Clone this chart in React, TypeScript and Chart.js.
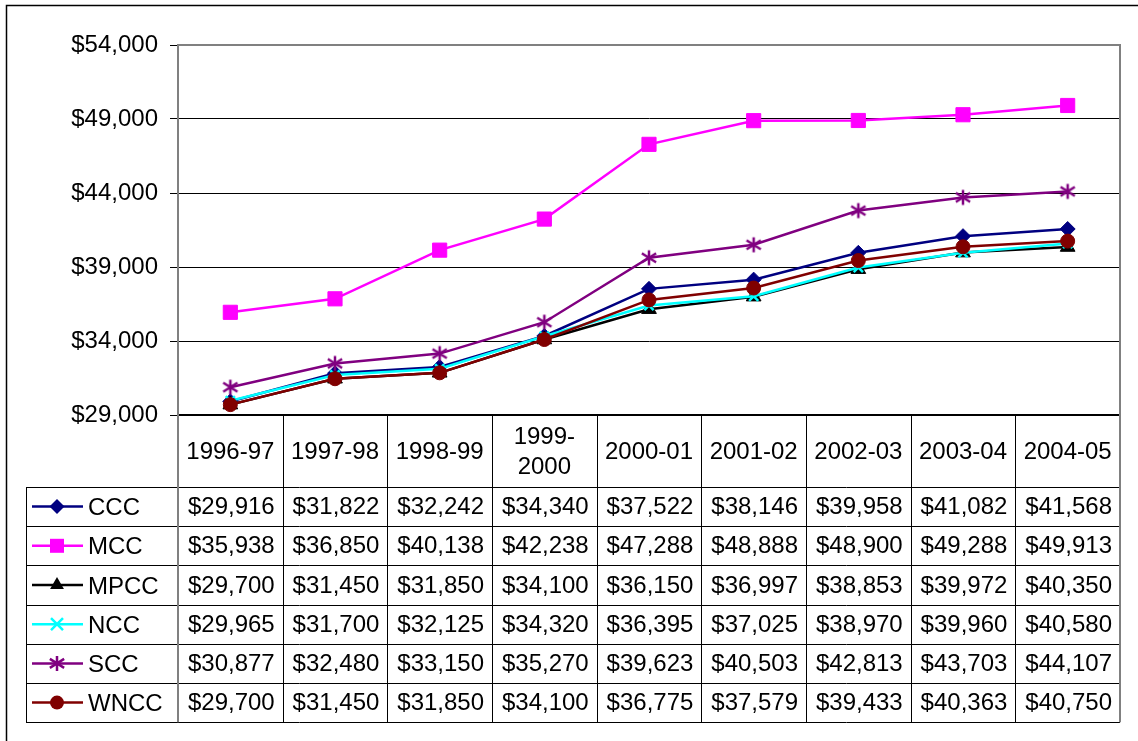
import React, { useEffect, useRef } from 'react';
import { Chart, registerables } from 'chart.js';

Chart.register(...registerables);

const categories = ['1996-97', '1997-98', '1998-99', '1999-2000', '2000-01', '2001-02', '2002-03', '2003-04', '2004-05'];
const headerLines = [['1996-97'], ['1997-98'], ['1998-99'], ['1999-', '2000'], ['2000-01'], ['2001-02'], ['2002-03'], ['2003-04'], ['2004-05']];

const seriesNames = ['CCC', 'MCC', 'MPCC', 'NCC', 'SCC', 'WNCC'];
const ccc = [29916, 31822, 32242, 34340, 37522, 38146, 39958, 41082, 41568];
const mcc = [35938, 36850, 40138, 42238, 47288, 48888, 48900, 49288, 49913];
const mpcc = [29700, 31450, 31850, 34100, 36150, 36997, 38853, 39972, 40350];
const ncc = [29965, 31700, 32125, 34320, 36395, 37025, 38970, 39960, 40580];
const scc = [30877, 32480, 33150, 35270, 39623, 40503, 42813, 43703, 44107];
const wncc = [29700, 31450, 31850, 34100, 36775, 37579, 39433, 40363, 40750];
const seriesValues = [ccc, mcc, mpcc, ncc, scc, wncc];

const yMin = 29000;
const yMax = 54000;
const yStep = 5000;

const colors = ['#000080', '#FF00FF', '#000000', '#00FFFF', '#800080', '#800000'];
const markerKinds = ['diamond', 'square', 'triangle', 'x', 'star', 'circle'];

const FONT = '"Liberation Sans", Arial, sans-serif';

function fmt(v: number) {
  return '$' + v.toLocaleString('en-US');
}

function strokeStar(g: CanvasRenderingContext2D, x: number, y: number, r: number) {
  const d = r * 0.95;
  const h = r * 0.6;
  g.moveTo(x, y - r);
  g.lineTo(x, y + r);
  g.moveTo(x - d, y - h);
  g.lineTo(x + d, y + h);
  g.moveTo(x - d, y + h);
  g.lineTo(x + d, y - h);
}

function makeStar(color: string, r: number, lw: number) {
  const c = document.createElement('canvas');
  const s = Math.ceil(2 * r + lw * 2);
  c.width = s;
  c.height = s;
  const g = c.getContext('2d')!;
  const m = s / 2;
  g.strokeStyle = color;
  g.lineWidth = lw;
  g.beginPath();
  strokeStar(g, m, m, r);
  g.stroke();
  return c;
}

function drawMarker(ctx: CanvasRenderingContext2D, kind: string, x: number, y: number, color: string) {
  ctx.save();
  ctx.fillStyle = color;
  ctx.strokeStyle = color;
  ctx.lineWidth = 2;
  ctx.beginPath();
  if (kind === 'diamond') {
    const r = 7.5;
    ctx.moveTo(x, y - r);
    ctx.lineTo(x + r, y);
    ctx.lineTo(x, y + r);
    ctx.lineTo(x - r, y);
    ctx.closePath();
    ctx.fill();
  } else if (kind === 'square') {
    ctx.rect(x - 7, y - 7, 14, 14);
    ctx.fill();
  } else if (kind === 'triangle') {
    const r = 8;
    ctx.moveTo(x, y - r);
    ctx.lineTo(x + r * 0.866, y + r * 0.5);
    ctx.lineTo(x - r * 0.866, y + r * 0.5);
    ctx.closePath();
    ctx.fill();
  } else if (kind === 'x') {
    const d = 6;
    ctx.lineWidth = 2.5;
    ctx.moveTo(x - d, y - d);
    ctx.lineTo(x + d, y + d);
    ctx.moveTo(x - d, y + d);
    ctx.lineTo(x + d, y - d);
    ctx.stroke();
  } else if (kind === 'star') {
    ctx.lineWidth = 2.5;
    strokeStar(ctx, x, y, 7.5);
    ctx.stroke();
  } else {
    ctx.arc(x, y, 7, 0, Math.PI * 2);
    ctx.fill();
  }
  ctx.restore();
}

const HEADER_H = 72;
const ROW_H = 39.2;
const LEGEND_LEFT = 26;

const tablePlugin = {
  id: 'dataTable',
  afterDraw(chart: any) {
    const ctx: CanvasRenderingContext2D = chart.ctx;
    const area = chart.chartArea;
    const xs = chart.scales.x;
    const n = categories.length;
    const centers = categories.map((_, i) => xs.getPixelForValue(i));
    const edges: number[] = [area.left];
    for (let i = 1; i < n; i++) edges.push((centers[i - 1] + centers[i]) / 2);
    edges.push(area.right);

    const top = area.bottom;
    const rowsTop = top + HEADER_H;
    const bottom = rowsTop + ROW_H * seriesNames.length;

    ctx.save();
    ctx.strokeStyle = '#000';
    ctx.lineWidth = 1.5;
    ctx.beginPath();
    ctx.moveTo(6.5, 745);
    ctx.lineTo(6.5, 5.5);
    ctx.lineTo(1145, 5.5);
    ctx.stroke();

    ctx.strokeStyle = '#000';
    ctx.lineWidth = 1;
    ctx.beginPath();
    for (let i = 1; i < n; i++) {
      const x = Math.round(edges[i]) + 0.5;
      ctx.moveTo(x, top);
      ctx.lineTo(x, bottom);
    }
    for (let r = 0; r <= seriesNames.length; r++) {
      const y = Math.round(rowsTop + r * ROW_H) + 0.5;
      ctx.moveTo(LEGEND_LEFT, y);
      ctx.lineTo(area.right, y);
    }
    ctx.moveTo(LEGEND_LEFT + 0.5, rowsTop);
    ctx.lineTo(LEGEND_LEFT + 0.5, bottom);
    ctx.stroke();

    ctx.lineWidth = 2;
    ctx.beginPath();
    ctx.moveTo(area.left, top);
    ctx.lineTo(area.right, top);
    ctx.stroke();

    ctx.strokeStyle = '#808080';
    ctx.lineWidth = 2;
    ctx.beginPath();
    ctx.moveTo(area.left, bottom);
    ctx.lineTo(area.left, area.top);
    ctx.lineTo(area.right, area.top);
    ctx.lineTo(area.right, bottom);
    ctx.stroke();

    ctx.fillStyle = '#000';
    ctx.font = '24px ' + FONT;
    ctx.textAlign = 'center';
    ctx.textBaseline = 'middle';
    const hc = top + HEADER_H / 2 + 1;
    headerLines.forEach((lines, i) => {
      if (lines.length === 1) {
        ctx.fillText(lines[0], centers[i], hc);
      } else {
        ctx.fillText(lines[0], centers[i], hc - 15);
        ctx.fillText(lines[1], centers[i], hc + 15);
      }
    });

    seriesNames.forEach((name, r) => {
      const cy = rowsTop + r * ROW_H + ROW_H / 2 + 1;
      ctx.textAlign = 'center';
      ctx.fillStyle = '#000';
      seriesValues[r].forEach((v, i) => {
        ctx.fillText(fmt(v), centers[i] + 1, cy);
      });
      ctx.strokeStyle = colors[r];
      ctx.lineWidth = 2.5;
      ctx.beginPath();
      ctx.moveTo(32, cy - 1);
      ctx.lineTo(83, cy - 1);
      ctx.stroke();
      drawMarker(ctx, markerKinds[r], 57, cy - 1, colors[r]);
      ctx.fillStyle = '#000';
      ctx.textAlign = 'left';
      ctx.fillText(name, 88, cy + 1);
    });
    ctx.restore();
  },
};

export default function App() {
  const ref = useRef<HTMLCanvasElement>(null);
  useEffect(() => {
    const star = makeStar(colors[4], 7.5, 2.5);
    const pointStyles: any[] = ['rectRot', 'rect', 'triangle', 'crossRot', star, 'circle'];
    const radii = [7.5, 10, 8.5, 6.5, 7.5, 7];
    const datasets = seriesNames.map((name, i) => ({
      label: name,
      data: seriesValues[i],
      borderColor: colors[i],
      backgroundColor: colors[i],
      borderWidth: 2.5,
      pointStyle: pointStyles[i],
      pointRadius: radii[i],
      pointBorderWidth: i === 3 ? 2.5 : 1,
      pointBackgroundColor: colors[i],
      pointBorderColor: colors[i],
      tension: 0,
      order: seriesNames.length - i,
    }));
    const chart = new Chart(ref.current!, {
      type: 'line',
      data: { labels: categories, datasets },
      options: {
        responsive: false,
        animation: false,
        layout: { padding: { left: 0, top: 45, right: 18, bottom: 326 } },
        plugins: { legend: { display: false }, tooltip: { enabled: false } },
        scales: {
          x: { type: 'category', display: false, offset: true },
          y: {
            min: yMin,
            max: yMax,
            ticks: {
              stepSize: yStep,
              color: '#000',
              padding: 12,
              font: { family: FONT, size: 24 },
              callback: (v: any) => fmt(Number(v)),
            },
            grid: { color: '#000', lineWidth: 1, tickLength: 8, drawTicks: true },
            border: { display: true, color: '#808080', width: 2 },
            afterFit: (s: any) => {
              s.width = 178;
            },
          },
        },
      } as any,
      plugins: [tablePlugin],
    });
    return () => chart.destroy();
  }, []);
  return (
    <div style={{ position: 'fixed', left: 0, top: 0, width: 1138, height: 741, background: '#fff' }}>
      <canvas ref={ref} width={1138} height={741} style={{ width: 1138, height: 741, display: 'block' }} />
    </div>
  );
}
